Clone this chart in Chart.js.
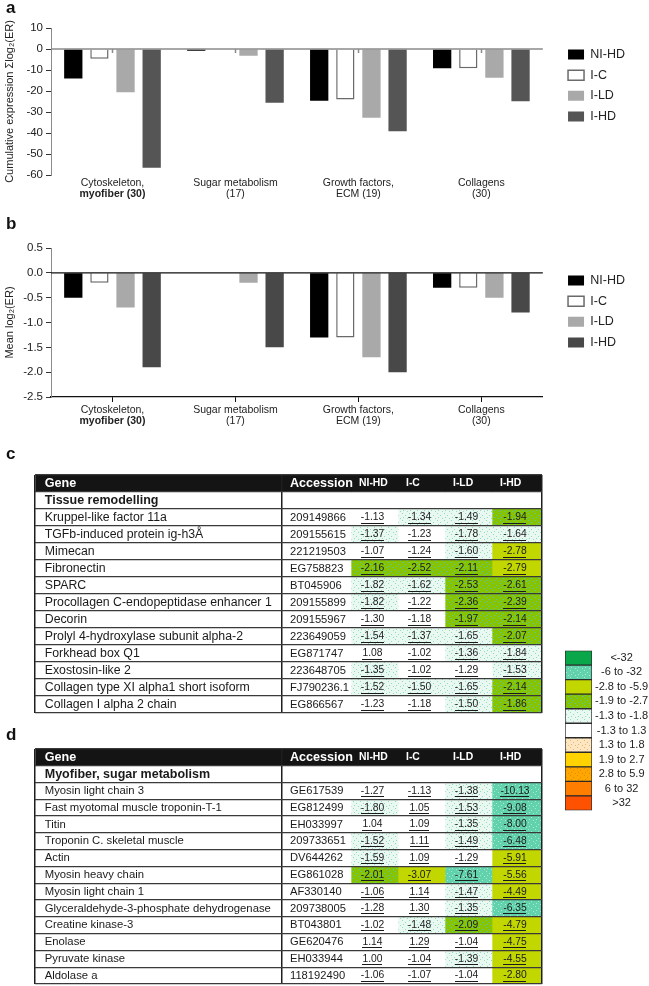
<!DOCTYPE html>
<html>
<head>
<meta charset="utf-8">
<title>Expression panels</title>
<script src="https://cdn.jsdelivr.net/npm/chart.js@4.4.0/dist/chart.umd.min.js"></script>
<style>
  body { margin:0; background:#fff; font-family:"Liberation Sans", Arial, sans-serif; }
  #page { position:relative; width:649px; height:986px; overflow:hidden; }
  .lbl { position:absolute; left:6px; font-weight:bold; font-size:17px; line-height:17px; color:#111; }
  canvas { position:absolute; }
</style>
</head>
<body>
<div id="page">
  <canvas id="chartA" width="649" height="205" style="left:0;top:0"></canvas>
  <canvas id="chartB" width="649" height="225" style="left:0;top:205px"></canvas>
  <canvas id="tableC" width="517" height="248" style="left:30px;top:470px"></canvas>
  <canvas id="tableD" width="517" height="242" style="left:30px;top:744px"></canvas>
  <canvas id="heatKey" width="87" height="179" style="left:562px;top:641px"></canvas>
  <div class="lbl" style="top:-1px">a</div>
  <div class="lbl" style="top:215px">b</div>
  <div class="lbl" style="top:445px">c</div>
  <div class="lbl" style="top:726px">d</div>
</div>
<script>
// panels a and b
const groupLines = [['Cytoskeleton,', 'myofiber (30)'], ['Sugar metabolism', '(17)'], ['Growth factors,', 'ECM (19)'], ['Collagens', '(30)']];
const boldLine = 'myofiber (30)';
const seriesNames = ['NI-HD', 'I-C', 'I-LD', 'I-HD'];

const sumNIHD = [-14, -0.8, -24.6, -9.2];
const sumIC   = [-4.6, -0.4, -24, -9.2];
const sumILD  = [-20.6, -3.2, -32.7, -13.7];
const sumIHD  = [-56.5, -25.6, -39.2, -24.9];

const meanNIHD = [-0.5, 0, -1.3, -0.3];
const meanIC   = [-0.2, 0, -1.3, -0.3];
const meanILD  = [-0.7, -0.2, -1.7, -0.5];
const meanIHD  = [-1.9, -1.5, -2.0, -0.8];

// tables c and d
const tableHeads = ['Gene', 'Accession', 'NI-HD', 'I-C', 'I-LD', 'I-HD'];

const genesC = ['Kruppel-like factor 11a', 'TGFb-induced protein ig-h3Å', 'Mimecan', 'Fibronectin', 'SPARC',
  'Procollagen C-endopeptidase enhancer 1', 'Decorin', 'Prolyl 4-hydroxylase subunit alpha-2', 'Forkhead box Q1',
  'Exostosin-like 2', 'Collagen type XI alpha1 short isoform', 'Collagen I alpha 2 chain'];
const accC = ['209149866', '209155615', '221219503', 'EG758823', 'BT045906', '209155899', '209155967', '223649059',
  'EG871747', '223648705', 'FJ790236.1', 'EG866567'];
const niHdC = [-1.13, -1.37, -1.07, -2.16, -1.82, -1.82, -1.30, -1.54, 1.08, -1.35, -1.52, -1.23];
const icC   = [-1.34, -1.23, -1.24, -2.52, -1.62, -1.22, -1.18, -1.37, -1.02, -1.02, -1.50, -1.18];
const ildC  = [-1.49, -1.78, -1.60, -2.11, -2.53, -2.36, -1.97, -1.65, -1.36, -1.29, -1.65, -1.50];
const ihdC  = [-1.94, -1.64, -2.78, -2.79, -2.61, -2.39, -2.14, -2.07, -1.84, -1.53, -2.14, -1.86];

const genesD = ['Myosin light chain 3', 'Fast myotomal muscle troponin-T-1', 'Titin', 'Troponin C. skeletal muscle',
  'Actin', 'Myosin heavy chain', 'Myosin light chain 1', 'Glyceraldehyde-3-phosphate dehydrogenase',
  'Creatine kinase-3', 'Enolase', 'Pyruvate kinase', 'Aldolase a'];
const accD = ['GE617539', 'EG812499', 'EH033997', '209733651', 'DV644262', 'EG861028', 'AF330140', '209738005',
  'BT043801', 'GE620476', 'EH033944', '118192490'];
const niHdD = [-1.27, -1.80, 1.04, -1.52, -1.59, -2.01, -1.06, -1.28, -1.02, 1.14, 1.00, -1.06];
const icD   = [-1.13, 1.05, 1.09, 1.11, 1.09, -3.07, 1.14, 1.30, -1.48, 1.29, -1.04, -1.07];
const ildD  = [-1.38, -1.53, -1.35, -1.49, -1.29, -7.61, -1.47, -1.35, -2.09, -1.04, -1.39, -1.04];
const ihdD  = [-10.13, -9.08, -8.00, -6.48, -5.91, -5.56, -4.49, -6.35, -4.79, -4.75, -4.55, -2.80];

// colour key
const binLabels = ['<-32', '-6 to -32', '-2.8 to -5.9', '-1.9 to -2.7', '-1.3 to -1.8', '-1.3 to 1.3',
  '1.3 to 1.8', '1.9 to 2.7', '2.8 to 5.9', '6 to 32', '>32'];

const FAMILY = '"Liberation Sans", Arial, Helvetica, sans-serif';
Chart.defaults.font.family = FAMILY;
Chart.defaults.color = '#222';

function dots(base, dot) {
  const c = document.createElement('canvas');
  c.width = 7; c.height = 7;
  const g = c.getContext('2d');
  g.fillStyle = base; g.fillRect(0, 0, 7, 7);
  g.fillStyle = dot;
  [[1, 1], [4, 3], [2, 5], [6, 6]].forEach(p => g.fillRect(p[0], p[1], 1, 1));
  return g.createPattern(c, 'repeat');
}
const binFill = [
  '#0aa64a', dots('#62d2ac', '#a6ead0'), '#c2d600', dots('#86c300', '#52c7c4'), dots('#eaf8f2', '#8fdcc0'),
  '#ffffff', dots('#fde6c2', '#f0b466'), '#ffd200', dots('#ffa600', '#e08a00'), '#ff7e00', '#ff5200'
];
function binOf(v) {
  if (v <= -32) return 0;
  if (v <= -5.95) return 1;
  if (v <= -2.75) return 2;
  if (v <= -1.85) return 3;
  if (v <= -1.305) return 4;
  if (v < 1.305) return 5;
  if (v < 1.85) return 6;
  if (v < 2.75) return 7;
  if (v < 5.95) return 8;
  if (v < 32) return 9;
  return 10;
}

// ---- bar panels ----
const zeroLine = {
  id: 'zeroLine',
  afterDatasetsDraw(chart, args, o) {
    const {ctx, chartArea} = chart;
    const y = chart.scales.y.getPixelForValue(0);
    ctx.save();
    ctx.strokeStyle = o.color; ctx.lineWidth = o.width;
    ctx.beginPath(); ctx.moveTo(chartArea.left, y); ctx.lineTo(chartArea.right, y);
    if (o.ticks) {
      chart.data.labels.forEach((_, i) => {
        const x = Math.round(chart.scales.x.getPixelForValue(i)) + 0.5;
        ctx.moveTo(x, y); ctx.lineTo(x, y + 4);
      });
    }
    ctx.stroke();
    ctx.restore();
  }
};
const groupLabels = {
  id: 'groupLabels',
  afterDraw(chart, args, o) {
    const {ctx, chartArea} = chart;
    ctx.save();
    ctx.fillStyle = '#222'; ctx.textAlign = 'center'; ctx.textBaseline = 'middle';
    groupLines.forEach((lines, i) => {
      const x = chart.scales.x.getPixelForValue(i);
      lines.forEach((t, k) => {
        ctx.font = (t === boldLine ? 'bold ' : '') + '10.5px ' + FAMILY;
        ctx.fillText(t, x, chartArea.bottom + o.offset + k * 11.5);
      });
    });
    ctx.restore();
  }
};

function barSets(series, ihdColor) {
  const fills = ['#000000', '#ffffff', '#a9a9a9', ihdColor];
  return series.map((vals, i) => ({
    label: seriesNames[i],
    data: vals,
    backgroundColor: fills[i],
    borderColor: i === 1 ? '#6a6a6a' : fills[i],
    borderWidth: i === 1 ? 1.5 : 0,
    categoryPercentage: 0.85,
    barPercentage: 0.7
  }));
}

function barChart(id, series, cfg) {
  return new Chart(document.getElementById(id), {
    type: 'bar',
    data: { labels: groupLines.map(l => l.join(' ')), datasets: barSets(series, cfg.ihd) },
    options: {
      responsive: false, animation: false, events: [],
      layout: { padding: { top: cfg.padTop, bottom: cfg.padBottom, left: 3, right: 14 } },
      plugins: {
        tooltip: { enabled: false },
        legend: {
          position: 'right', align: 'start',
          title: { display: true, text: '', font: { size: 1 }, padding: { top: cfg.legendShift, bottom: 0 } },
          labels: { boxWidth: 16, boxHeight: 10, padding: 8.2, color: '#222', font: { size: 12.5 } }
        },
        zeroLine: { color: cfg.zeroColor, width: cfg.zeroWidth, ticks: cfg.zeroTicks },
        groupLabels: { offset: cfg.labelOffset }
      },
      scales: {
        x: cfg.x,
        y: {
          min: cfg.min, max: cfg.max,
          ticks: { stepSize: cfg.step, padding: 3, color: '#222', font: { size: 11.5 }, callback: cfg.fmt },
          grid: { display: true, drawOnChartArea: false, drawTicks: true, tickLength: 5, color: '#333' },
          border: { display: true, color: '#8a8a8a', width: 1 },
          title: { display: true, text: cfg.title, color: '#222', font: { size: 11 }, padding: { top: 0, bottom: 0 } },
          afterFit: s => { s.width = 48; }
        },
        gap: {
          position: 'right', display: true,
          grid: { display: false }, ticks: { display: false }, border: { display: false },
          afterFit: s => { s.width = 17; }
        }
      }
    },
    plugins: [zeroLine, groupLabels]
  });
}

barChart('chartA', [sumNIHD, sumIC, sumILD, sumIHD], {
  ihd: '#555555', padTop: 28, padBottom: 30, legendShift: 10.8,
  zeroColor: '#8a8a8a', zeroWidth: 1.5, zeroTicks: true, labelOffset: 8,
  min: -60, max: 10, step: 10, fmt: v => v,
  title: 'Cumulative expression Σlog₂(ER)',
  x: { display: false, grid: { offset: false } }
});

barChart('chartB', [meanNIHD, meanIC, meanILD, meanIHD], {
  ihd: '#484848', padTop: 43, padBottom: 28, legendShift: 16.8,
  zeroColor: '#111', zeroWidth: 1.2, zeroTicks: false, labelOffset: 13,
  min: -2.5, max: 0.5, step: 0.5, fmt: v => Number(v).toFixed(1),
  title: 'Mean log₂(ER)',
  x: {
    display: true,
    grid: { display: true, drawOnChartArea: false, drawTicks: true, tickLength: 5, color: '#111', offset: false },
    border: { display: true, color: '#111', width: 1.2 },
    ticks: { display: false },
    afterFit: s => { s.height = 5; }
  }
});

// ---- tables drawn as stacked horizontal bars, one bar segment per cell ----
const colWidths = [247, 69, 47, 47, 47, 50];
const colRules = [0, 247, 507];

function makeCellText(t) {
  return {
    id: 'cellText',
    afterDraw(chart) {
      const ctx = chart.ctx;
      ctx.save();
      ctx.textBaseline = 'middle';
      chart.data.datasets.forEach((ds, ci) => {
        chart.getDatasetMeta(ci).data.forEach((bar, ri) => {
          const p = bar.getProps(['x', 'y', 'base'], true);
          const left = Math.min(p.x, p.base), right = Math.max(p.x, p.base);
          let txt = '', font, color = '#1a1a1a', align = 'left', x = left + 8, under = false;
          if (ri === 0) {
            txt = tableHeads[ci]; color = '#fff';
            font = 'bold ' + (ci < 2 ? 12.6 : 10.4) + 'px ' + FAMILY;
            if (ci === 0) x = left + 9;
          } else if (ri === 1) {
            if (ci === 0) { txt = t.section; font = 'bold 12.5px ' + FAMILY; x = left + 9; }
          } else {
            const g = ri - 2;
            if (ci === 0) { txt = t.genes[g]; font = t.geneSize + 'px ' + FAMILY; x = left + 9; }
            else if (ci === 1) { txt = t.acc[g]; font = '11.2px ' + FAMILY; }
            else {
              txt = t.vals[ci - 2][g].toFixed(2); font = '10.3px ' + FAMILY;
              align = 'center'; x = (left + right) / 2 - 2; under = true;
            }
          }
          if (!txt) return;
          ctx.font = font; ctx.fillStyle = color; ctx.textAlign = align;
          ctx.fillText(txt, x, p.y);
          if (under) {
            const w = ctx.measureText(txt).width;
            ctx.fillRect(Math.round(x - w / 2), Math.round(p.y + 5), Math.round(w), 1);
          }
        });
      });
      ctx.restore();
    }
  };
}

function cellFill(t, ci, ri) {
  if (ri === 0) return '#141414';
  if (ri === 1 || ci < 2) return '#ffffff';
  return binFill[binOf(t.vals[ci - 2][ri - 2])];
}

function tableChart(id, t) {
  const rows = ['head', 'section'].concat(t.genes);
  return new Chart(document.getElementById(id), {
    type: 'bar',
    data: {
      labels: rows,
      datasets: colWidths.map((w, ci) => ({
        label: tableHeads[ci],
        data: rows.map(() => w),
        backgroundColor: c => cellFill(t, ci, c.dataIndex),
        borderWidth: 0,
        barPercentage: 1, categoryPercentage: 1
      }))
    },
    options: {
      indexAxis: 'y', responsive: false, animation: false, events: [],
      layout: { padding: t.pad },
      plugins: { legend: { display: false }, tooltip: { enabled: false } },
      scales: {
        x: {
          type: 'linear', stacked: true, min: 0, max: 507,
          afterBuildTicks: s => { s.ticks = colRules.map(v => ({ value: v })); },
          grid: { color: '#1e1e1e', lineWidth: 1.5, drawTicks: false, z: 1 },
          border: { display: false }, ticks: { display: false },
          afterFit: s => { s.height = 0; }
        },
        y: {
          stacked: true,
          grid: { color: '#3a3a3a', lineWidth: 1.3, drawTicks: false, offset: true, z: 1 },
          border: { display: false }, ticks: { display: false },
          afterFit: s => { s.width = 0; }
        }
      }
    },
    plugins: [makeCellText(t)]
  });
}

tableChart('tableC', {
  section: 'Tissue remodelling', genes: genesC, acc: accC, vals: [niHdC, icC, ildC, ihdC],
  geneSize: 12.3, pad: { left: 5, right: 5, top: 5, bottom: 5 }
});
tableChart('tableD', {
  section: 'Myofiber, sugar metabolism', genes: genesD, acc: accD, vals: [niHdD, icD, ildD, ihdD],
  geneSize: 11.3, pad: { left: 5, right: 5, top: 5, bottom: 2 }
});

// ---- colour key ----
new Chart(document.getElementById('heatKey'), {
  type: 'bar',
  data: {
    labels: binLabels,
    datasets: [{
      data: binLabels.map(() => 1),
      backgroundColor: binLabels.map((_, i) => binFill[i]),
      borderColor: '#2a2a2a', borderWidth: 1, borderSkipped: false,
      barPercentage: 1, categoryPercentage: 1
    }]
  },
  options: {
    indexAxis: 'y', responsive: false, animation: false, events: [],
    layout: { padding: { left: 3, top: 3, bottom: 3, right: 0 } },
    plugins: { legend: { display: false }, tooltip: { enabled: false } },
    scales: {
      x: { display: false, min: 0, max: 1 },
      y: {
        position: 'right',
        grid: { display: false, drawTicks: false }, border: { display: false },
        ticks: { autoSkip: false, crossAlign: 'center', padding: 3, color: '#222', font: { size: 11 } },
        afterFit: s => { s.width = 57; }
      }
    }
  }
});
</script>
</body>
</html>
